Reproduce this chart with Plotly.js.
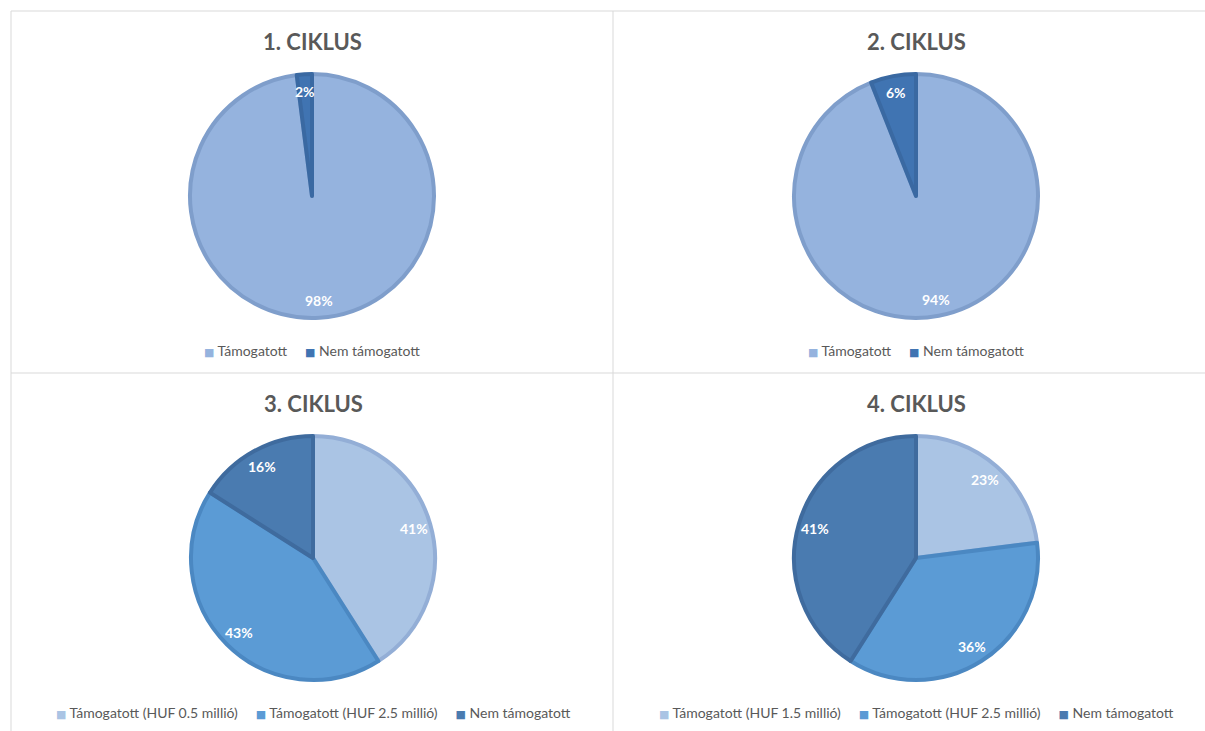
<!DOCTYPE html>
<html>
<head>
<meta charset="utf-8">
<script src="https://cdn.plot.ly/plotly-3.0.1.min.js"></script>
<style>
  html, body { margin: 0; padding: 0; background: #ffffff; }
  #chart { width: 1205px; height: 731px; }
</style>
</head>
<body>
<div id="chart"></div>
<script>
// Cycle titles
const cycleTitles = ['1. CIKLUS', '2. CIKLUS', '3. CIKLUS', '4. CIKLUS'];

// Cycles 1 and 2: supported vs. not supported
const labelsCycle1 = ['Támogatott', 'Nem támogatott'];
const valuesCycle1 = [98, 2];
const labelsCycle2 = ['Támogatott', 'Nem támogatott'];
const valuesCycle2 = [94, 6];

// Cycles 3 and 4: supported by grant size vs. not supported
const labelsCycle3 = ['Támogatott (HUF 0.5 millió)', 'Támogatott (HUF 2.5 millió)', 'Nem támogatott'];
const valuesCycle3 = [41, 43, 16];
const labelsCycle4 = ['Támogatott (HUF 1.5 millió)', 'Támogatott (HUF 2.5 millió)', 'Nem támogatott'];
const valuesCycle4 = [23, 36, 41];

// Slice fills and their slightly darker outlines
const fillsTwo = ['#95b3de', '#4074b2'];
const edgesTwo = ['#7f9ecb', '#3a69a2'];
const fillsThree = ['#aac4e4', '#5b9bd5', '#4a7bb0'];
const edgesThree = ['#93aed6', '#4b88c2', '#3f6b9e'];

const W = 1205, H = 731;
const TEXT = '#595959';
const FONT = 'Lato, "Open Sans", sans-serif';

// Panel geometry in pixels: pie centre and radius
const panels = [
  { cx: 312, cy: 196, r: 122, legendY: 351 },
  { cx: 916, cy: 196, r: 122, legendY: 351 },
  { cx: 313, cy: 558, r: 122, legendY: 712 },
  { cx: 916, cy: 558, r: 122, legendY: 712 }
];

const series = [
  { labels: labelsCycle1, values: valuesCycle1, fills: fillsTwo, edges: edgesTwo },
  { labels: labelsCycle2, values: valuesCycle2, fills: fillsTwo, edges: edgesTwo },
  { labels: labelsCycle3, values: valuesCycle3, fills: fillsThree, edges: edgesThree },
  { labels: labelsCycle4, values: valuesCycle4, fills: fillsThree, edges: edgesThree }
];

const px = x => x / W;
const py = y => 1 - y / H;

const traces = [];
const annotations = [];

series.forEach((s, i) => {
  const p = panels[i];
  traces.push({
    type: 'pie',
    labels: s.labels,
    values: s.values,
    sort: false,
    direction: 'clockwise',
    rotation: 0,
    textinfo: 'none',
    hoverinfo: 'label+percent',
    marker: { colors: s.fills, line: { color: s.edges, width: 4 } },
    domain: { x: [px(p.cx - p.r), px(p.cx + p.r)], y: [py(p.cy + p.r), py(p.cy - p.r)] },
    showlegend: false
  });

  // Title above each pie
  annotations.push({
    text: '<b>' + cycleTitles[i] + '</b>',
    x: px(p.cx), y: py(p.cy - p.r - 33),
    xref: 'paper', yref: 'paper', xanchor: 'center', yanchor: 'middle',
    showarrow: false,
    font: { family: FONT, size: 22, color: TEXT }
  });

  // Percentage labels placed near the outer edge of each slice
  const total = s.values.reduce((a, b) => a + b, 0);
  let cum = 0;
  s.values.forEach(v => {
    const mid = (cum + v / 2) / total * 2 * Math.PI;
    cum += v;
    const rr = p.r * 0.86;
    const x = p.cx + rr * Math.sin(mid);
    const y = p.cy - rr * Math.cos(mid);
    annotations.push({
      text: '<b>' + Math.round(v / total * 100) + '%</b>',
      x: px(x), y: py(y),
      xref: 'paper', yref: 'paper', xanchor: 'center', yanchor: 'middle',
      showarrow: false,
      font: { family: FONT, size: 14, color: '#ffffff' }
    });
  });

  // Legend row below each pie: coloured square + label per slice
  const gap = '&nbsp;&nbsp;&nbsp;&nbsp;&nbsp;';
  const legendText = s.labels.map((lab, k) =>
    '<span style="color:' + s.fills[k] + ';font-size:11px;font-family:DejaVu Sans">■</span>&nbsp;' + lab
  ).join(gap);
  annotations.push({
    text: legendText,
    x: px(p.cx), y: py(p.legendY),
    xref: 'paper', yref: 'paper', xanchor: 'center', yanchor: 'middle',
    showarrow: false,
    font: { family: FONT, size: 14, color: TEXT }
  });
});

// Thin grey frame separating the four panels
const grid = '#d9d9d9';
const shapes = [
  { x0: px(11), x1: 1, y0: py(11), y1: py(11) },
  { x0: px(11), x1: px(11), y0: py(11), y1: 0 },
  { x0: px(613), x1: px(613), y0: py(11), y1: 0 },
  { x0: px(11), x1: 1, y0: py(373), y1: py(373) }
].map(s => Object.assign({ type: 'line', xref: 'paper', yref: 'paper', line: { color: grid, width: 1 } }, s));

const layout = {
  width: W,
  height: H,
  margin: { l: 0, r: 0, t: 0, b: 0 },
  paper_bgcolor: '#ffffff',
  plot_bgcolor: '#ffffff',
  font: { family: FONT, color: TEXT },
  showlegend: false,
  annotations: annotations,
  shapes: shapes
};

Plotly.newPlot('chart', traces, layout, { displayModeBar: false, staticPlot: true });
</script>
</body>
</html>
